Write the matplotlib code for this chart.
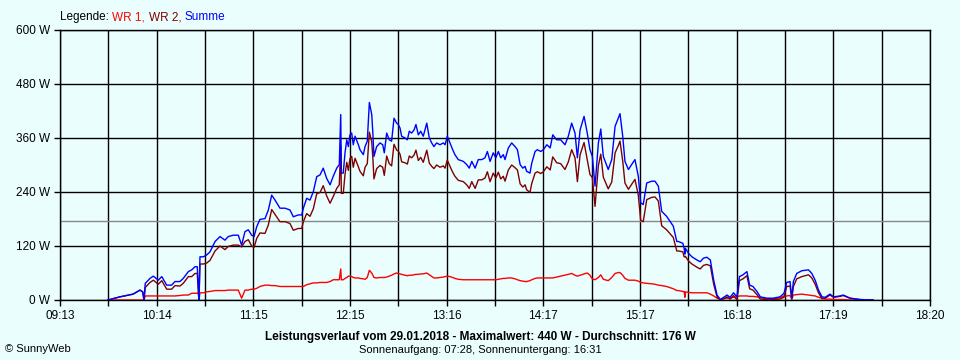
import matplotlib
matplotlib.use("Agg")
import matplotlib.pyplot as plt

plt.rcParams["font.family"] = ["Liberation Sans", "DejaVu Sans"]

# minutes after midnight
minutes = [583.2, 590.7, 598.9, 603.3, 605.0, 605.8, 606.6, 609.6, 611.7, 614.8,
           617.0, 620.1, 623.2, 625.3, 628.4, 630.5, 633.7, 635.8, 637.9, 639.3,
           640.0, 640.4, 641.0, 643.1, 645.2, 647.3, 650.5, 653.6, 656.7, 658.8,
           662.0, 665.1, 667.2, 669.3, 671.4, 673.5, 675.0, 676.7, 678.7, 681.9,
           684.0, 686.1, 688.2, 691.3, 694.5, 697.6, 699.7, 702.8, 705.0, 706.0,
           708.1, 710.2, 712.3, 714.4, 716.5, 718.5, 720.7, 722.8, 724.8, 727.0,
           728.6, 729.5, 729.9, 731.1, 732.2, 733.3, 734.3, 735.3, 736.4, 737.4,
           738.5, 740.6, 741.6, 743.7, 744.8, 746.2, 747.5, 749.0, 749.7, 750.4,
           752.1, 754.2, 755.9, 756.9, 758.4, 760.0, 761.5, 763.0, 764.7, 765.7,
           766.8, 767.8, 769.9, 771.4, 772.6, 774.1, 775.6, 776.8, 778.3, 779.8,
           781.4, 783.6, 785.2, 786.7, 788.1, 789.8, 791.9, 794.0, 795.1, 796.5,
           798.2, 799.9, 801.3, 803.4, 806.6, 808.7, 810.3, 811.9, 814.0, 816.0,
           818.2, 820.2, 821.7, 823.4, 825.4, 827.0, 828.6, 830.1, 831.7, 832.8,
           834.9, 837.0, 839.1, 840.6, 842.3, 844.0, 845.4, 846.4, 848.5, 849.6,
           851.7, 853.1, 855.3, 856.9, 859.1, 861.2, 862.8, 865.3, 867.8, 870.5,
           872.6, 874.7, 876.8, 878.3, 880.0, 882.5, 884.5, 886.2, 887.7, 889.4,
           891.5, 893.0, 894.6, 897.7, 899.9, 902.0, 904.0, 905.1, 906.8, 908.2,
           910.4, 912.4, 914.5, 916.6, 918.1, 919.7, 921.9, 925.0, 927.1, 929.2,
           931.3, 934.4, 938.6, 940.8, 941.8, 944.6, 945.4, 945.9, 946.2, 948.1,
           950.3, 953.4, 955.5, 957.6, 959.7, 961.9, 964.0, 966.1, 968.2, 970.7,
           972.4, 974.3, 976.5, 978.6, 980.2, 982.4, 984.9, 986.6, 988.7, 991.2,
           993.3, 997.5, 1001.5, 1005.7, 1008.2, 1009.9, 1012.0, 1013.1, 1014.1, 1016.2,
           1019.4, 1023.6, 1025.7, 1027.8, 1029.9, 1032.1, 1034.1, 1037.1, 1039.4, 1043.4,
           1045.5, 1049.7, 1056.0, 1064.2]

wr1 = [0, 0, 0, 0, 0, 0, 9, 9, 9, 9,
       9, 9, 9, 9, 10, 11, 11, 15, 15, 15,
       16, 0, 16, 16, 18, 19, 21, 21, 21, 22,
       22, 22, 4, 22, 22, 24, 24, 26, 30, 33,
       33, 32, 32, 30, 30, 30, 30, 30, 30, 30,
       34, 36, 38, 38, 39, 39, 39, 41, 45, 45,
       45, 69, 45, 45, 48, 50, 53, 53, 52, 50,
       49, 49, 48, 47, 46, 50, 66, 60, 55, 50,
       49, 50, 50, 50, 51, 53, 55, 58, 60, 59,
       58, 57, 55, 54, 55, 55, 56, 57, 57, 58,
       58, 60, 56, 52, 49, 49, 50, 51, 52, 53,
       52, 50, 48, 46, 45, 45, 45, 45, 45, 45,
       45, 45, 45, 45, 45, 45, 46, 47, 48, 48,
       49, 49, 47, 45, 43, 42, 41, 41, 43, 45,
       48, 49, 49, 49, 49, 49, 49, 51, 53, 55,
       57, 59, 55, 53, 55, 58, 60, 55, 47, 45,
       50, 56, 46, 43, 50, 59, 61, 61, 55, 48,
       44, 44, 44, 42, 39, 38, 37, 36, 35, 33,
       32, 30, 25, 21, 21, 19, 19, 6, 18, 17,
       16, 16, 16, 16, 16, 13, 9, 4, 1, 4,
       4, 4, 6, 7, 9, 9, 9, 8, 8, 7,
       5, 3, 3, 5, 9, 9, 10, 2, 11, 12,
       13, 11, 10, 9, 6, 4, 2, 2, 1, 1,
       1, 0, 0, 0]

wr2 = [0, 7, 13, 22, 18, 0, 28, 39, 44, 35,
       43, 24, 24, 32, 31, 37, 52, 52, 59, 59,
       14, 0, 80, 80, 82, 88, 109, 120, 112, 119,
       122, 122, 118, 130, 134, 120, 117, 137, 149, 148,
       167, 201, 190, 174, 174, 170, 155, 159, 159, 174,
       192, 186, 203, 236, 239, 254, 231, 215, 230, 248,
       256, 343, 237, 237, 279, 306, 288, 314, 319, 295,
       315, 296, 286, 276, 295, 303, 373, 352, 316, 269,
       292, 299, 295, 277, 320, 303, 298, 346, 333, 331,
       324, 307, 305, 302, 320, 316, 322, 333, 310, 317,
       306, 333, 304, 297, 292, 300, 295, 298, 293, 311,
       297, 284, 275, 266, 263, 256, 248, 263, 248, 267,
       267, 271, 285, 263, 282, 271, 284, 269, 275, 264,
       289, 300, 294, 289, 258, 251, 256, 245, 239, 259,
       282, 285, 281, 285, 296, 289, 318, 305, 303, 290,
       307, 334, 316, 263, 323, 350, 311, 279, 272, 208,
       299, 324, 273, 247, 262, 327, 343, 353, 309, 260,
       246, 257, 268, 233, 177, 174, 223, 228, 229, 220,
       165, 156, 139, 109, 109, 107, 96, 96, 97, 87,
       80, 73, 69, 77, 79, 76, 35, 7, 0, 3,
       7, 2, 10, 0, 43, 47, 54, 25, 22, 12,
       2, 1, 1, 2, 6, 30, 31, 2, 30, 47,
       52, 56, 49, 35, 16, 3, 4, 11, 6, 8,
       10, 4, 1, 0]

summe = [0, 7, 13, 22, 18, 0, 37, 48, 53, 44,
         52, 33, 33, 41, 41, 48, 63, 67, 74, 74,
         30, 0, 96, 96, 100, 107, 130, 141, 133, 141,
         144, 144, 122, 152, 156, 144, 141, 163, 179, 181,
         200, 233, 222, 204, 204, 200, 185, 189, 189, 204,
         226, 222, 241, 274, 278, 293, 270, 256, 275, 293,
         301, 412, 282, 282, 327, 356, 341, 367, 371, 345,
         364, 345, 334, 323, 341, 353, 439, 412, 371, 319,
         341, 349, 345, 327, 371, 356, 353, 404, 393, 390,
         382, 364, 360, 356, 375, 371, 378, 390, 367, 375,
         364, 393, 360, 349, 341, 349, 345, 349, 345, 364,
         349, 334, 323, 312, 308, 301, 293, 308, 293, 312,
         312, 316, 330, 308, 327, 316, 330, 316, 323, 312,
         338, 349, 341, 334, 301, 293, 297, 286, 282, 304,
         330, 334, 330, 334, 345, 338, 367, 356, 356, 345,
         364, 393, 371, 316, 378, 408, 371, 334, 319, 253,
         349, 380, 319, 290, 312, 386, 404, 414, 364, 308,
         290, 301, 312, 275, 216, 212, 260, 264, 264, 253,
         197, 186, 164, 130, 130, 126, 115, 102, 115, 104,
         96, 89, 85, 93, 95, 89, 44, 11, 1, 7,
         11, 6, 16, 7, 52, 56, 63, 33, 30, 19,
         7, 4, 4, 7, 15, 39, 41, 4, 41, 59,
         65, 67, 59, 44, 22, 7, 6, 13, 7, 9,
         11, 4, 1, 0]

average = 176
y_ticks = [0, 120, 240, 360, 480, 600]
x_labels = ["09:13", "10:14", "11:15", "12:15", "13:16", "14:17",
            "15:17", "16:18", "17:19", "18:20"]
t_start, t_end = 553, 1100   # 09:13 .. 18:20

bg = "#eafefe"
fig = plt.figure(figsize=(9.6, 3.6), dpi=100, facecolor=bg)
ax = fig.add_axes([60 / 960, 60 / 360, 870 / 960, 270 / 360], facecolor=bg)

n = 2 * (len(x_labels) - 1)
ticks = [t_start + i * (t_end - t_start) / n for i in range(n + 1)]
ax.set_xticks(ticks)
ax.set_xticklabels([x_labels[i // 2] if i % 2 == 0 else "" for i in range(n + 1)])
ax.set_yticks(y_ticks)
ax.set_yticklabels([f"{v} W" for v in y_ticks])
ax.set_xlim(t_start, t_end)
ax.set_ylim(0, 600)
ax.grid(True, color="black", lw=1.0)
ax.set_axisbelow(True)
ax.tick_params(direction="out", length=4, width=1.0, color="black", labelsize=8.5, pad=3)
for sp in ax.spines.values():
    sp.set_color("black"); sp.set_linewidth(1.0)

ax.axhline(average, color="#888888", lw=1.0, zorder=1.5)
ax.plot(minutes, wr1, color="#ff0000", lw=1.0, zorder=3)
ax.plot(minutes, wr2, color="#800000", lw=1.0, zorder=4)
ax.plot(minutes, summe, color="#0000ff", lw=1.0, zorder=5)

# legend line on top, coloured word by word
fig.canvas.draw()
r = fig.canvas.get_renderer()
x = 60
for s, c in [("Legende:", "black"), ("WR 1,", "#ff0000"), ("WR 2,", "#800000"), ("Summe", "#0000ff")]:
    t = fig.text(x / 960, 1 - 17 / 360, s, color=c, fontsize=8.5, va="center", ha="left")
    x += t.get_window_extent(r).width + 3.5

fig.text(0.5, 1 - 337 / 360,
         "Leistungsverlauf vom 29.01.2018 - Maximalwert: 440 W - Durchschnitt: 176 W",
         ha="center", va="center", fontsize=8.5, fontweight="bold")
fig.text(0.5, 1 - 350 / 360, "Sonnenaufgang: 07:28, Sonnenuntergang: 16:31",
         ha="center", va="center", fontsize=8)
fig.text(5 / 960, 1 - 349 / 360, "© SunnyWeb", ha="left", va="center", fontsize=8)

fig.savefig("out.png", dpi=100, facecolor=bg)
